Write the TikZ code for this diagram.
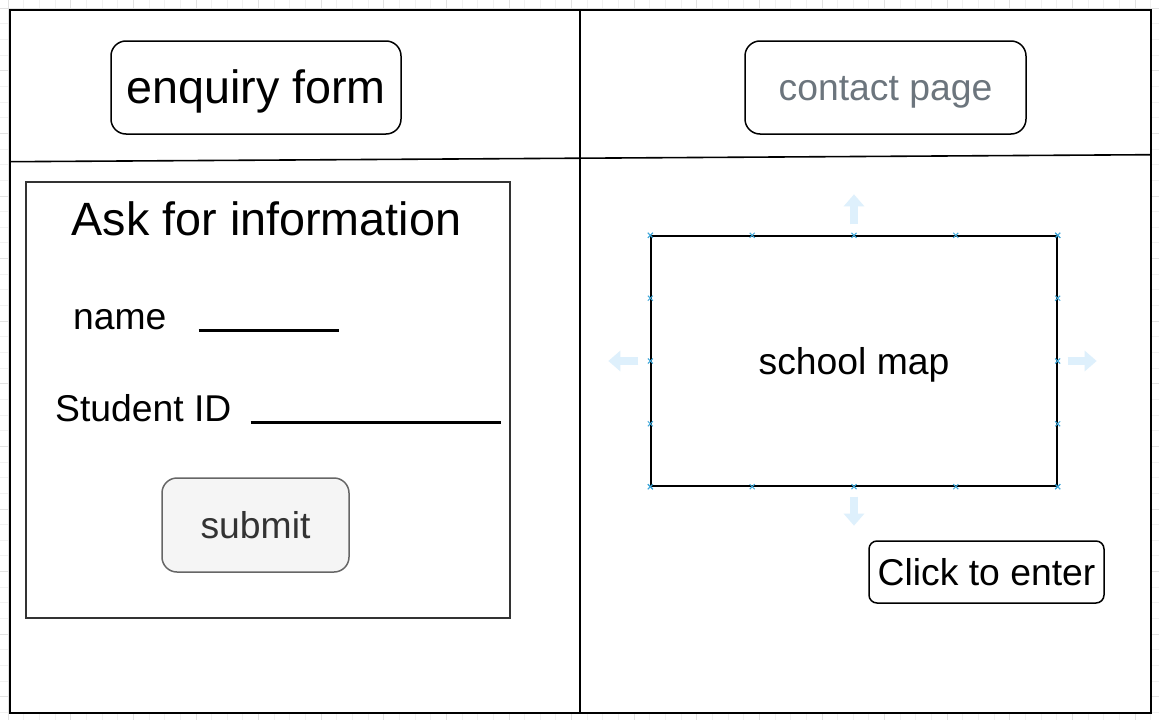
\documentclass[tikz,border=0pt]{standalone}
\usepackage{fontspec}
\setmainfont{Liberation Sans}
\usetikzlibrary{arrows.meta}
\usetikzlibrary{calc}
\definecolor{pagegray}{RGB}{108,117,125}
\definecolor{btnfill}{RGB}{245,245,245}
\definecolor{btnline}{RGB}{102,102,102}
\definecolor{btntext}{RGB}{51,51,51}
\definecolor{hintblue}{RGB}{222,240,252}
\definecolor{markblue}{RGB}{64,168,218}
\definecolor{gridminor}{RGB}{241,241,241}
\definecolor{gridmajor}{RGB}{226,226,226}
\providecommand{\bigtxt}{\fontsize{46.7}{56}\selectfont}
\providecommand{\midtxt}{\fontsize{37.3}{45}\selectfont}

\begin{document}
\begin{tikzpicture}[x=1pt,y=-1pt,
		frame/.style={line width=1.6pt},
		tab/.style={draw, line width=1.5pt, rounded corners=15pt, minimum height=93pt},
		lbl/.style={inner sep=0pt, font=\midtxt},
		midbox/.style={font=\midtxt, text height=31pt, text depth=5pt},
		field/.style={line width=2.6pt},
		xmark/.style={draw=markblue, line width=1pt},
		hint/.style={line width=8pt, draw=hintblue, -{Triangle[width=20pt,length=12pt]}}]
		
		\useasboundingbox (0,0) rectangle (1159,720);
		
		%grid
		\foreach \k in {0,...,73} \draw[gridminor, line width=0.6pt] ({8+15.65*\k},0) -- ++(0,720);
		\foreach \k in {0,...,45} \draw[gridminor, line width=0.6pt] (0,{8+15.65*\k}) -- ++(1159,0);
		\foreach \k in {0,...,18} \draw[gridmajor, line width=0.6pt] ({8+62.6*\k},0) -- ++(0,720);
		\foreach \k in {0,...,11} \draw[gridmajor, line width=0.6pt] (0,{8+62.6*\k}) -- ++(1159,0);
		
		%frame
		\fill[white] (10,10) rectangle (1151,713);
		\draw[frame] (10,10) rectangle (1151,713);
		\draw[frame] (580,10) -- (580,713);
		\draw[frame] (10,161.7) -- (1151,154.7);
		
		%tabs
		\node[tab, minimum width=290pt, font=\bigtxt, text height=38pt, text depth=6.5pt] (enq) at (256,87.5) {enquiry form};
		\node[tab, midbox, minimum width=281pt, text=pagegray] (contact) at (885.5,87.5) {contact page};
		
		%form
		\node[draw=black!80, line width=1.6pt, minimum width=484pt, minimum height=436pt] (form) at (268,400) {};
		\node[lbl, font=\bigtxt, anchor=base] (ask) at (266.5,235.7) {Ask for information};
		\node[lbl, anchor=base west] (name) at (73,329.3) {name};
		\node[lbl, anchor=base west] (sid) at (55,421.7) {Student ID};
		\draw[field] ([xshift=32pt,yshift=-1pt]name.base east) -- ++(140,0);
		\draw[field] ([xshift=19pt,yshift=-1pt]sid.base east) -- ++(250,0);
		\node[tab, midbox, minimum width=187pt, minimum height=94pt, fill=btnfill, draw=btnline, text=btntext] (submit) at (255.5,525) {submit};
		
		%map
		\node[draw, midbox, line width=1.3pt, minimum width=406pt, minimum height=250pt] (map) at (854,361) {school map};
		\foreach \t in {0,0.25,0.5,0.75,1}{
			\draw[xmark] ($(map.north west)!\t!(map.north east)$) +(-2.5,-2.5) -- +(2.5,2.5) +(-2.5,2.5) -- +(2.5,-2.5);
			\draw[xmark] ($(map.south west)!\t!(map.south east)$) +(-2.5,-2.5) -- +(2.5,2.5) +(-2.5,2.5) -- +(2.5,-2.5);
			\draw[xmark] ($(map.north west)!\t!(map.south west)$) +(-2.5,-2.5) -- +(2.5,2.5) +(-2.5,2.5) -- +(2.5,-2.5);
			\draw[xmark] ($(map.north east)!\t!(map.south east)$) +(-2.5,-2.5) -- +(2.5,2.5) +(-2.5,2.5) -- +(2.5,-2.5);
		}
		\draw[hint] ($(map.north)+(0,-11)$) -- ++(0,-30);
		\draw[hint] ($(map.south)+(0,10)$) -- ++(0,29);
		\draw[hint] ($(map.west)+(-12,0)$) -- ++(-30,0);
		\draw[hint] ($(map.east)+(10,0)$) -- ++(29,0);
		
		\node[draw, midbox, line width=1.5pt, rounded corners=8pt, inner sep=2pt, minimum width=235pt, minimum height=62pt] (enter) at (986.5,572) {Click to enter};
		
	\end{tikzpicture}
\end{document}
